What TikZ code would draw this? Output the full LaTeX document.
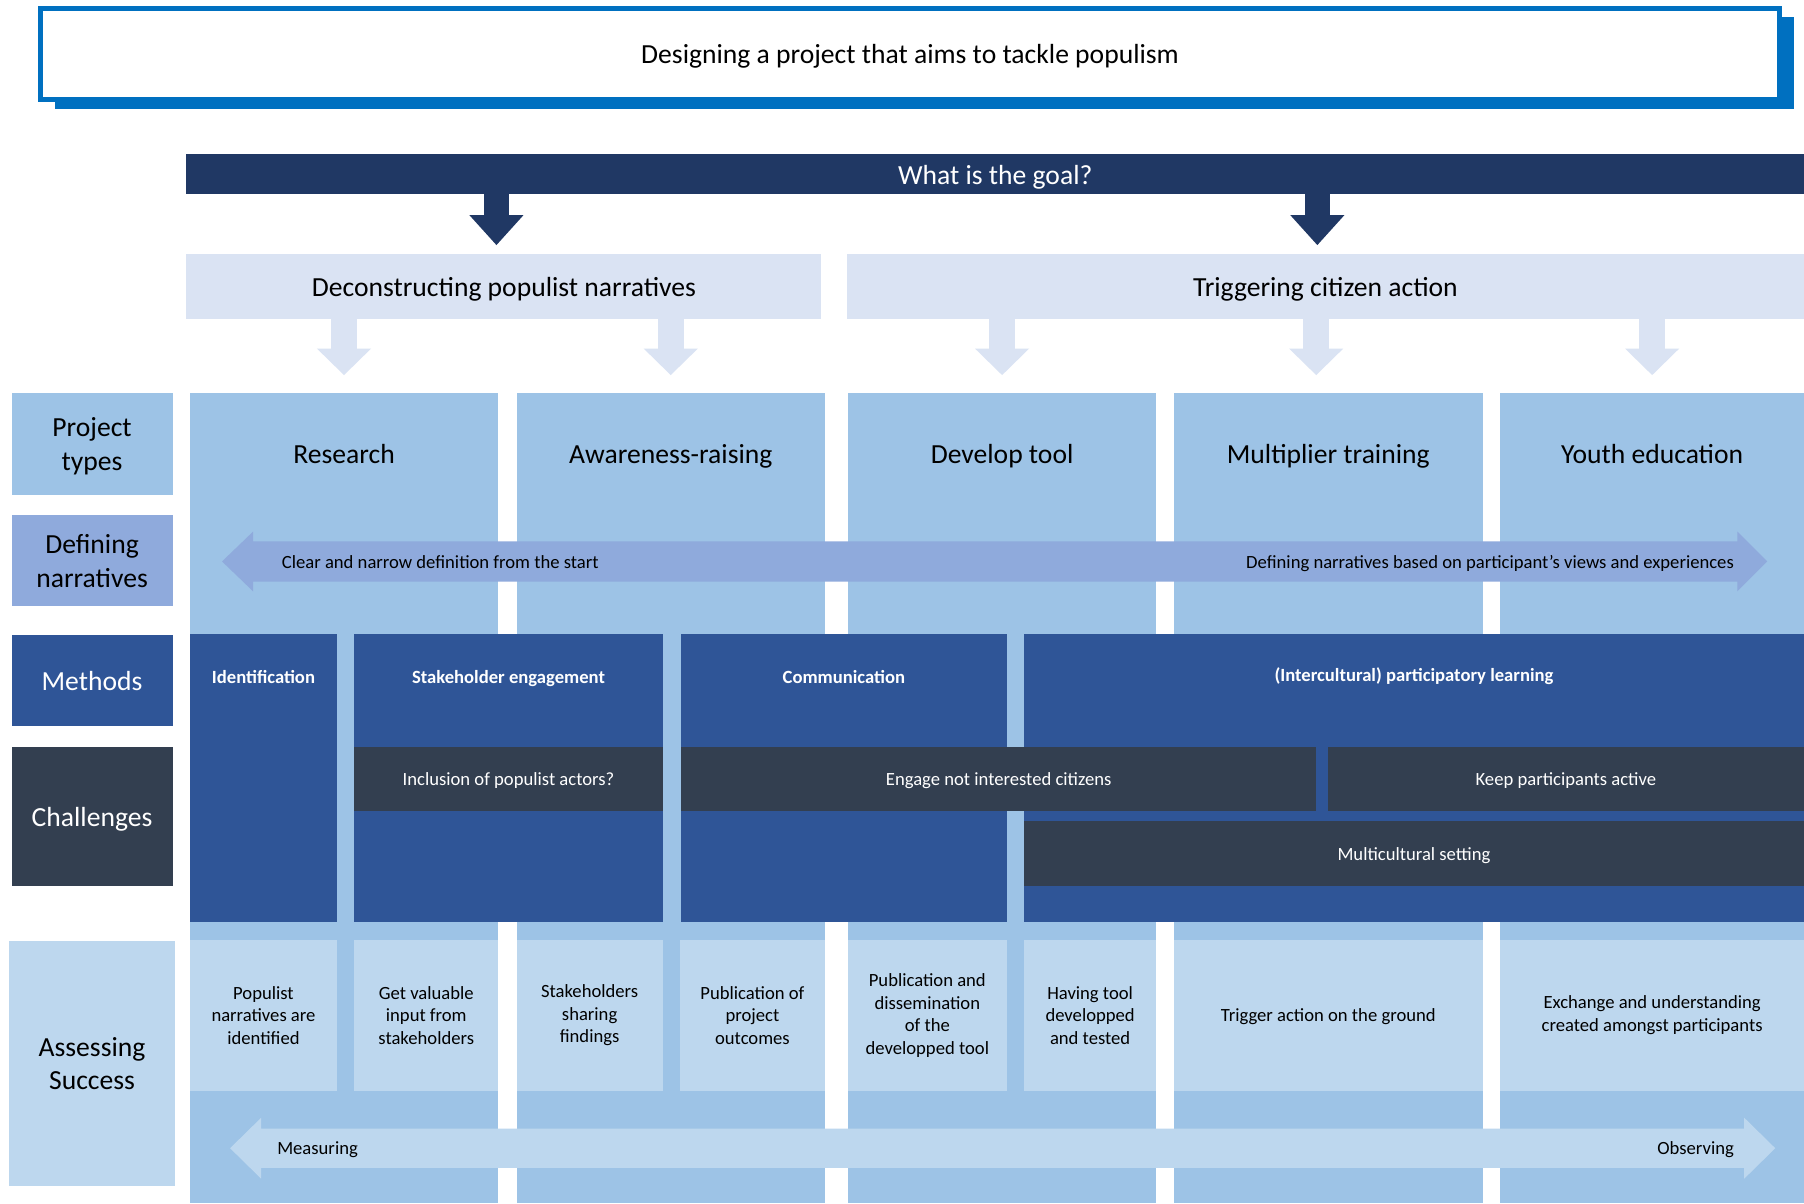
\documentclass[tikz,border=0pt]{standalone}
\usepackage{fontspec}
\setmainfont{Carlito}
\usetikzlibrary{arrows.meta}

\definecolor{frameblue}{HTML}{0070C0}
\definecolor{goalnavy}{HTML}{203864}
\definecolor{goalpale}{HTML}{DAE3F3}
\definecolor{typeblue}{HTML}{9DC3E6}
\definecolor{narrblue}{HTML}{8FAADC}
\definecolor{methblue}{HTML}{2F5597}
\definecolor{chalgrey}{HTML}{333F50}
\definecolor{succblue}{HTML}{BDD7EE}

\tikzset{
  cell/.style 2 args={rectangle, anchor=north west, minimum width=#1, minimum height=#2, align=center},
  big/.style={font=\fontsize{24}{29}\selectfont},
  small/.style={font=\fontsize{16.2}{19.6}\selectfont},
  bigline/.style={big, text height=17pt, text depth=0pt},
  smallline/.style={small, text height=11.5pt, text depth=0pt},
  smallbold/.style={smallline, font=\fontsize{16.2}{19.6}\selectfont\bfseries, text=white},
  navyarrow/.style={draw=goalnavy, line width=22pt, shorten >=8pt,
    -{Triangle[width=47pt, length=26pt, line width=0pt]}},
  palearrow/.style={draw=goalpale, line width=23pt, shorten >=16pt,
    -{Triangle[width=47pt, length=23pt, line width=0pt]}}
}

\begin{document}
\begin{tikzpicture}[x=1pt, y=-1pt, every node/.style={inner sep=0pt, outer sep=0pt}]
  \useasboundingbox (0,0) rectangle (1568,1046);
  \fill[white] (0,0) rectangle (1568,1046);

  % title with offset frame
  \fill[frameblue] (48,14.5) rectangle (1559,95);
  \node[cell={1511.7}{78.3}, fill=white, draw=frameblue, line width=4.3pt, bigline] (title) at (35.15,7.8)
    {Designing a project that aims to tackle populism};

  % goal bar and the two goals
  \node[cell={1406}{35}, fill=goalnavy, text=white, bigline] (goal) at (162,134) {What is the goal?};
  \node[cell={552}{56}, fill=goalpale, bigline] (dec) at (162,221) {Deconstructing populist narratives};
  \node[cell={832}{56}, fill=goalpale, bigline] (trig) at (736,221) {Triggering citizen action};
  \coordinate (decArr) at (431.5,0);
  \coordinate (trigArr) at (1145,0);
  \draw[navyarrow] (goal.south -| decArr) -- (dec.north -| decArr);
  \draw[navyarrow] (goal.south -| trigArr) -- (trig.north -| trigArr);

  % row labels
  \node[cell={140}{88}, fill=typeblue, big] (lType) at (10,342) {\strut Project\\types};
  \node[cell={140}{79}, fill=narrblue, big] (lNarr) at (10,448) {Defining\\narratives};
  \node[cell={140}{79}, fill=methblue, text=white, bigline] (lMeth) at (10,552) {Methods};
  \node[cell={140}{121}, fill=chalgrey, text=white, bigline] (lChal) at (10,649) {Challenges};
  \node[cell={144}{213}, fill=succblue, big] (lSucc) at (8,818) {Assessing\\Success};

  % project type columns
  \node[cell={268}{704}, fill=typeblue] (res) at (165,342) {};
  \node[cell={268}{704}, fill=typeblue] (awa) at (449,342) {};
  \node[cell={268}{704}, fill=typeblue] (dev) at (737,342) {};
  \node[cell={269}{704}, fill=typeblue] (mul) at (1020,342) {};
  \node[cell={264}{704}, fill=typeblue] (you) at (1304,342) {};
  \node[bigline] (resT) at ([yshift=-52pt]res.north) {Research};
  \node[bigline] (awaT) at ([yshift=-52pt]awa.north) {Awareness-raising};
  \node[bigline] (devT) at ([yshift=-52pt]dev.north) {Develop tool};
  \node[bigline] (mulT) at ([yshift=-52pt]mul.north) {Multiplier training};
  \node[bigline] (youT) at ([yshift=-52pt]you.north) {Youth education};

  % goals feeding the project types
  \coordinate (mulArr) at (1144,0);
  \draw[palearrow] (dec.south -| res.north) -- (res.north);
  \draw[palearrow] (dec.south -| awa.north) -- (awa.north);
  \draw[palearrow] (trig.south -| dev.north) -- (dev.north);
  \draw[palearrow] (trig.south -| mulArr) -- (mul.north -| mulArr);
  \draw[palearrow] (trig.south -| you.north) -- (you.north);

  % defining narratives
  \fill[narrblue] (193,488) -- (220,462) -- (220,470.5) -- (1510,470.5) -- (1510,462) -- (1536,488)
    -- (1510,514) -- (1510,505.5) -- (220,505.5) -- (220,514) -- cycle;
  \node[smallline, anchor=west] (narrL) at (245,488) {Clear and narrow definition from the start};
  \node[smallline, anchor=east] (narrR) at (1507,488) {Defining narratives based on participant’s views and experiences};

  % methods
  \node[cell={128}{250}, fill=methblue] (mIdent) at (165,551) {};
  \node[cell={268}{250}, fill=methblue] (mStake) at (308,551) {};
  \node[cell={283}{250}, fill=methblue] (mComm) at (592,551) {};
  \node[cell={678}{250}, fill=methblue] (mLearn) at (890,551) {};
  \node[smallbold] (mIdentT) at ([yshift=-37pt]mIdent.north) {Identification};
  \node[smallbold] (mStakeT) at ([yshift=-37pt]mStake.north) {Stakeholder engagement};
  \node[smallbold] (mCommT) at ([yshift=-37pt]mComm.north) {Communication};
  \node[smallbold] (mLearnT) at ([yshift=-36pt]mLearn.north) {(Intercultural) participatory learning};

  % challenges
  \node[cell={268}{56}, fill=chalgrey, text=white, smallline] (cIncl) at (308,649) {Inclusion of populist actors?};
  \node[cell={552}{56}, fill=chalgrey, text=white, smallline] (cEngage) at (592,649) {Engage not interested citizens};
  \node[cell={414}{56}, fill=chalgrey, text=white, smallline] (cKeep) at (1154,649) {Keep participants active};
  \node[cell={678}{56}, fill=chalgrey, text=white, smallline] (cMulti) at (890,714) {Multicultural setting};

  % assessing success
  \node[cell={128}{131}, fill=succblue, small] (sIdent) at (165,817) {Populist\\narratives are\\identified};
  \node[cell={125}{131}, fill=succblue, small] (sInput) at (308,817) {Get valuable\\input from\\stakeholders};
  \node[cell={127}{131}, fill=succblue, small] (sShare) at (449,817) {Stakeholders\\sharing\\findings};
  \node[cell={126}{131}, fill=succblue, small] (sPubl) at (591,817) {Publication of\\project\\outcomes};
  \node[cell={138}{131}, fill=succblue, small] (sDiss) at (737,817) {Publication and\\dissemination\\of the\\developped tool};
  \node[cell={115}{131}, fill=succblue, small] (sTool) at (890,817) {Having tool\\developped\\and tested};
  \node[cell={269}{131}, fill=succblue, smallline] (sTrig) at (1020,817) {Trigger action on the ground};
  \node[cell={264}{131}, fill=succblue, small] (sExch) at (1304,817) {Exchange and understanding\\created amongst participants};

  % measuring vs observing
  \fill[succblue] (200,998) -- (227,971.5) -- (227,981) -- (1516,981) -- (1516,971.5) -- (1543,998)
    -- (1516,1024.5) -- (1516,1015) -- (227,1015) -- (227,1024.5) -- cycle;
  \node[smallline, anchor=west] (measure) at (241,998) {Measuring};
  \node[smallline, anchor=east] (observe) at (1507,998) {Observing};
\end{tikzpicture}
\end{document}
